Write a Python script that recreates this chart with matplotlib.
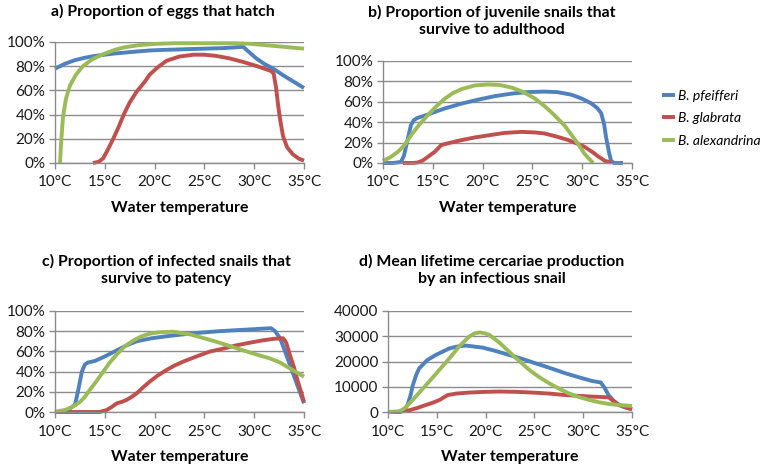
import matplotlib.pyplot as plt
from matplotlib.ticker import FuncFormatter

# colours (Excel 2007 defaults)
BLUE = "#4F81BD"
RED = "#C0504D"
GREEN = "#9BBB59"
GRID = "#8C8C8C"

species = ["B. pfeifferi", "B. glabrata", "B. alexandrina"]
xticks = [10, 15, 20, 25, 30, 35]

# a) proportion of eggs that hatch
a_pf_t = [10, 11, 12, 13, 14, 15, 16, 18, 19.5, 21, 23, 25, 27, 28.9, 29.3, 30.2, 31, 31.9, 33, 34, 35]
a_pf_v = [0.78, 0.82, 0.85, 0.87, 0.885, 0.895, 0.905, 0.92, 0.93, 0.935, 0.94, 0.945, 0.95, 0.96,
          0.93, 0.865, 0.82, 0.78, 0.72, 0.67, 0.62]
a_gl_t = [13.8, 14.4, 14.85, 15.3, 15.85, 16.4, 16.9, 17.5, 18.2, 19, 19.5, 20.3, 21.2, 22.5, 23.9,
          25, 26.2, 27.5, 28.9, 30.3, 31.7, 31.95, 32.2, 32.4, 32.6, 32.9, 33.3, 33.9, 34.5, 35]
a_gl_v = [0.0, 0.01, 0.04, 0.11, 0.2, 0.3, 0.4, 0.5, 0.59, 0.67, 0.73, 0.79, 0.845, 0.88, 0.895,
          0.895, 0.885, 0.865, 0.835, 0.8, 0.76, 0.74, 0.62, 0.48, 0.36, 0.22, 0.13, 0.07, 0.035, 0.02]
a_al_t = [10.5, 10.6, 10.8, 11.1, 11.5, 12.1, 12.8, 13.7, 14.85, 16, 16.9, 18.5, 20.2, 22, 25,
          28, 29.6, 31, 33, 35]
a_al_v = [0.0, 0.15, 0.38, 0.53, 0.64, 0.73, 0.8, 0.855, 0.9, 0.935, 0.955, 0.975, 0.985, 0.99, 0.99,
          0.99, 0.985, 0.975, 0.96, 0.945]

# b) proportion of juvenile snails that survive to adulthood
b_pf_t = [10, 11, 11.8, 12.1, 12.4, 12.8, 13.1, 13.4, 14.35, 15.2, 16.2, 17.8, 19.5, 21.2, 22.9,
          24.5, 26.2, 27.5, 28.9, 30, 30.9, 31.5, 31.9, 32.2, 32.4, 32.7, 32.9, 33.2, 34.1]
b_pf_v = [0.0, 0.0, 0.01, 0.07, 0.2, 0.37, 0.42, 0.44, 0.47, 0.5, 0.535, 0.58, 0.62, 0.655, 0.68,
          0.695, 0.7, 0.695, 0.67, 0.63, 0.585, 0.54, 0.49, 0.38, 0.25, 0.1, 0.02, 0.0, 0.0]
b_gl_t = [12, 13, 13.5, 14, 14.5, 15.2, 15.85, 16.8, 17.9, 19.2, 20.5, 22.2, 23.9, 25.2, 26.2, 27.4,
          28.6, 29.5, 30.2, 31, 31.6, 32.3, 32.9]
b_gl_v = [0.0, 0.0, 0.005, 0.025, 0.06, 0.11, 0.176, 0.2, 0.225, 0.25, 0.27, 0.295, 0.305, 0.3, 0.29,
          0.26, 0.225, 0.19, 0.16, 0.11, 0.065, 0.02, 0.005]
b_al_t = [10, 10.8, 11.5, 12.2, 12.8, 13.6, 14.5, 15.4, 16.2, 17, 17.9, 19.2, 20.5, 21.7, 22.9, 24,
          25.2, 26.2, 27.2, 28.2, 29.2, 29.7, 30.2, 30.7, 31.1]
b_al_v = [0.02, 0.06, 0.11, 0.18, 0.27, 0.37, 0.47, 0.56, 0.63, 0.685, 0.725, 0.76, 0.77, 0.765, 0.74,
          0.7, 0.635, 0.56, 0.47, 0.37, 0.24, 0.17, 0.095, 0.04, 0.0]

# c) proportion of infected snails that survive to patency
c_pf_t = [10, 11, 11.5, 12, 12.3, 12.7, 13, 13.3, 14, 15, 16.2, 17.2, 18.2, 19.7, 21.2, 23, 24.5,
          26.5, 28.2, 30, 31.7, 32.1, 32.6, 33.1, 33.6, 34.2, 35]
c_pf_v = [0.0, 0.01, 0.035, 0.07, 0.2, 0.4, 0.47, 0.49, 0.505, 0.55, 0.61, 0.66, 0.7, 0.73, 0.75,
          0.77, 0.785, 0.8, 0.81, 0.82, 0.83, 0.8, 0.73, 0.6, 0.465, 0.3, 0.086]
c_gl_t = [10, 12, 14, 14.5, 15.2, 15.7, 16.2, 16.7, 17.2, 17.7, 18.2, 18.8, 19.5, 20.3, 21.2, 22,
          22.9, 24.2, 25.6, 27, 28.2, 29.5, 30.9, 32, 32.9, 33.2, 33.6, 34, 34.3, 34.7, 35]
c_gl_v = [0.0, 0.0, 0.0, 0.0, 0.02, 0.05, 0.086, 0.1, 0.12, 0.15, 0.185, 0.24, 0.3, 0.36, 0.416,
          0.46, 0.5, 0.55, 0.6, 0.63, 0.66, 0.685, 0.71, 0.725, 0.73, 0.69, 0.56, 0.44, 0.33, 0.2, 0.1]
c_al_t = [10, 11, 11.5, 12, 12.5, 13, 13.5, 14.2, 14.85, 15.5, 16.2, 17, 17.9, 18.7, 19.5, 20.5,
          21.8, 23.5, 24.8, 26.2, 27.5, 28.9, 30.2, 31.6, 32.6, 33.6, 34.3, 35]
c_al_v = [0.003, 0.02, 0.04, 0.065, 0.1, 0.15, 0.22, 0.31, 0.4, 0.49, 0.57, 0.65, 0.71, 0.75, 0.775,
          0.79, 0.795, 0.77, 0.735, 0.695, 0.655, 0.61, 0.57, 0.53, 0.49, 0.43, 0.39, 0.35]

# d) mean lifetime cercariae production by an infectious snail
d_pf_t = [10, 11.2, 11.7, 12, 12.3, 12.55, 12.9, 13.2, 14, 14.9, 16.3, 17.2, 18, 19.7, 21, 22.4,
          23.8, 25.1, 26.7, 28.2, 29.5, 30.9, 31.5, 31.8, 32.2, 32.6, 33.1, 33.6, 34.3, 35]
d_pf_v = [0, 0, 1000, 2800, 6500, 10700, 14800, 17300, 20500, 22600, 25200, 26000, 26300, 25500,
          24200, 22600, 21000, 19300, 17300, 15300, 13800, 12300, 11900, 11700, 9500, 6700, 4500,
          2800, 1800, 1200]
d_gl_t = [10, 10.85, 11.5, 12.2, 13, 13.9, 14.6, 15.3, 16.1, 17, 18.3, 19.8, 21.4, 23, 24.8, 26.5,
          28.2, 30.4, 32.6, 33.1, 33.6, 34.3, 35]
d_gl_v = [0, 0, 300, 700, 1600, 2800, 3700, 4800, 6700, 7300, 7700, 7950, 8100, 8000, 7700, 7300,
          6700, 6200, 5800, 4400, 3000, 1900, 1000]
d_al_t = [10, 11.2, 11.7, 12.2, 13, 13.9, 15, 16.3, 17.3, 18.3, 18.9, 19.4, 19.9, 20.4, 21.4, 22.4,
          23.5, 24.5, 25.5, 26.5, 27.5, 28.5, 29.5, 30.6, 31.6, 32.6, 33.8, 35]
d_al_v = [0, 300, 1500, 3400, 6800, 10700, 15500, 21300, 26000, 29800, 31200, 31500, 31200, 30500,
          27500, 23900, 20000, 16600, 13800, 11400, 9300, 7400, 6000, 4800, 3900, 3200, 2700, 2400]

plt.rcParams["font.family"] = ["Lato", "DejaVu Sans"]

fig = plt.figure(figsize=(7.68, 4.68), dpi=100)
W, H = 768, 468


def px_axes(x0, y0, x1, y1):
    # pixel box (top-left origin) -> figure axes
    return fig.add_axes([x0 / W, 1 - y1 / H, (x1 - x0) / W, (y1 - y0) / H])


def style(ax, ymax, ystep, pct):
    ax.set_xlim(10, 35)
    ax.set_ylim(0, ymax)
    ax.set_xticks(xticks)
    ax.set_xticklabels([f"{t}°C" for t in xticks])
    ax.set_yticks([i * ystep for i in range(int(round(ymax / ystep)) + 1)])
    if pct:
        ax.yaxis.set_major_formatter(FuncFormatter(lambda v, p: f"{v * 100:.0f}%"))
    else:
        ax.yaxis.set_major_formatter(FuncFormatter(lambda v, p: f"{v:.0f}"))
    ax.grid(axis="y", color=GRID, linewidth=1.0)
    ax.set_axisbelow(True)
    for s in ["top", "right"]:
        ax.spines[s].set_visible(False)
    for s in ["left", "bottom"]:
        ax.spines[s].set_color(GRID)
        ax.spines[s].set_linewidth(1.0)
    ax.tick_params(direction="out", length=4, width=1.0, color=GRID, labelsize=11,
                   labelcolor="#1a1a1a", pad=3)
    ax.tick_params(axis="x", pad=5)
    ax.set_xlabel("Water temperature", fontsize=11.4, fontweight="bold", labelpad=8)
    ax.patch.set_alpha(0)


panels = [
    ((55, 42, 304, 163), 1.0, 0.2, True,
     [(a_pf_t, a_pf_v), (a_gl_t, a_gl_v), (a_al_t, a_al_v)],
     "a) Proportion of eggs that hatch", (163, 11)),
    ((383, 61, 632, 163), 1.0, 0.2, True,
     [(b_pf_t, b_pf_v), (b_gl_t, b_gl_v), (b_al_t, b_al_v)],
     "b) Proportion of juvenile snails that\nsurvive to adulthood", (492, 21)),
    ((55, 311, 304, 412), 1.0, 0.2, True,
     [(c_pf_t, c_pf_v), (c_gl_t, c_gl_v), (c_al_t, c_al_v)],
     "c) Proportion of infected snails that\nsurvive to patency", (166, 270)),
    ((388, 311, 632, 412), 40000, 10000, False,
     [(d_pf_t, d_pf_v), (d_gl_t, d_gl_v), (d_al_t, d_al_v)],
     "d) Mean lifetime cercariae production\nby an infectious snail", (492, 270)),
]

colors = [BLUE, RED, GREEN]
handles = []
for box, ymax, ystep, pct, series, title, tpos in panels:
    ax = px_axes(*box)
    style(ax, ymax, ystep, pct)
    hs = []
    for (t, v), c, name in zip(series, colors, species):
        (ln,) = ax.plot(t, v, color=c, linewidth=2.8, solid_capstyle="butt",
                        solid_joinstyle="round", label=name, clip_on=False)
        hs.append(ln)
    handles = hs
    fig.text(tpos[0] / W, 1 - tpos[1] / H, title, ha="center", va="center",
             fontsize=11.4, fontweight="bold", linespacing=1.3)

fig.legend(handles, species, loc="upper left", bbox_to_anchor=(649 / W, 1 - 77 / H),
           frameon=False, prop={"style": "italic", "size": 10},
           handlelength=0.95, handletextpad=0.25, labelspacing=0.78)

fig.savefig("out.png", dpi=100)
